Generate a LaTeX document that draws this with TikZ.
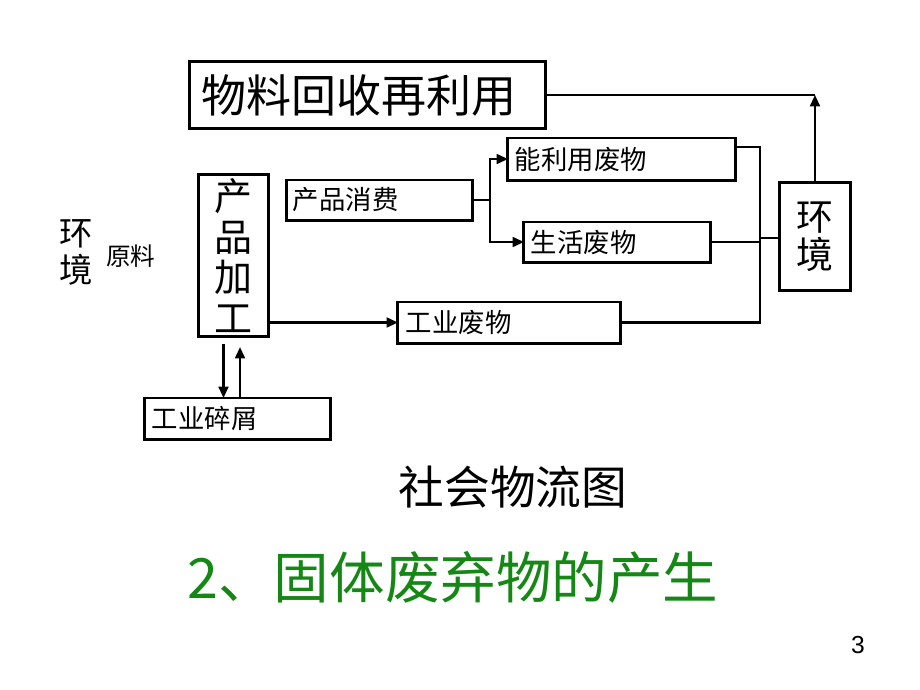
\documentclass[tikz,border=0pt]{standalone}
\usepackage{fontspec}
\setmainfont{Noto Sans CJK SC}
\setsansfont{Liberation Sans}
\usetikzlibrary{positioning}
\usetikzlibrary{calc,arrows.meta}
\definecolor{titlegreen}{RGB}{20,135,20}
\newcommand\tightlines{\lineskiplimit=-20pt\relax}
\begin{document}
\begin{tikzpicture}[x=0.01cm,y=-0.01cm,every node/.style={outer sep=0pt},
		box/.style={draw,line width=0.85pt,inner ysep=0pt,align=left},
		link/.style={line width=0.6pt},
		arr/.style={link,-{Triangle[length=3.2pt,width=2.8pt]}},
		small/.style={font=\fontsize{7.5}{8}\selectfont},
		]
		\useasboundingbox (0,0) rectangle (920,690);
		\node[box,text width=3.31cm,inner xsep=0.12cm,minimum height=0.66cm,font=\fontsize{12.8}{13}\selectfont] (recycle) at (367.5,95) {物料回收再利用};
		\node[box,small,text width=2.13cm,inner xsep=0.07cm,minimum height=0.42cm] (usable) at (621.5,159) {能利用废物};
		\node[box,small,text width=1.73cm,inner xsep=0.06cm,minimum height=0.40cm] (consume) at (379.5,200) {产品消费};
		\node[box,small,text width=1.72cm,inner xsep=0.07cm,minimum height=0.40cm] (living) at (617,242) {生活废物};
		\node[box,small,text width=2.06cm,inner xsep=0.08cm,minimum height=0.41cm] (industrial) at (509,322.5) {工业废物};
		\node[box,small,text width=1.71cm,inner xsep=0.07cm,minimum height=0.41cm] (scrap) at (237.5,418.5) {工业碎屑};
		\node[box,align=center,inner sep=0pt,minimum width=0.69cm,minimum height=1.61cm,font=\fontsize{10.8}{11.6}\selectfont\tightlines] (process) at (233.5,255.5) {产\\品\\加\\工};
		\node[box,align=center,inner sep=0pt,minimum width=0.70cm,minimum height=1.07cm,font=\fontsize{10.5}{10.8}\selectfont\tightlines] (envR) at (815,236.5) {环\\境};
		\node[align=center,inner sep=0pt,font=\fontsize{9.5}{10.5}\selectfont] (envL) at (76,252) {环\\境};
		\node[inner sep=0pt,font=\fontsize{7}{8}\selectfont] (raw) at (131,256) {原料};
		\node[inner sep=0pt,font=\fontsize{13}{14}\selectfont] (caption) at (513,487) {社会物流图};
		\node[inner sep=0pt,text=titlegreen,font=\fontsize{15.8}{17}\selectfont] (title) at (453,577) {2、固体废弃物的产生};
		\node[inner sep=0pt,font=\sffamily\fontsize{7}{8}\selectfont] (page) at (858,645) {3};

		% recycling loop
		\coordinate (top) at (envR.north |- recycle.east);
		\draw[arr] (envR.north) -- (top);
		\draw[link] (recycle.east) -- (top);

		% consumption split
		\coordinate (split) at ([xshift=0.18cm]consume.east);
		\draw[link] (consume.east) -- (split);
		\draw[arr] (split) |- (usable.west);
		\draw[arr] (split) |- (living.west);

		% wastes to environment
		\coordinate (bus) at (760,238);
		\coordinate (u) at ([yshift=0.12cm]usable.east);
		\draw[link] (u) -- (u -| bus) -- (industrial.east -| bus) -- (industrial.east);
		\draw[link] (living.east) -- (living.east -| bus);
		\draw[link] (bus) -- (bus -| envR.west);

		% processing
		\draw[arr] (process.east |- industrial.west) -- (industrial.west);
		\coordinate (dn) at ([xshift=-0.1cm]process.south);
		\coordinate (up) at ([xshift=0.065cm]process.south);
		\draw[arr] ([yshift=-0.08cm]dn) -- (dn |- scrap.north);
		\draw[arr] (up |- scrap.north) -- ([yshift=-0.11cm]up);
\end{tikzpicture}
\end{document}
